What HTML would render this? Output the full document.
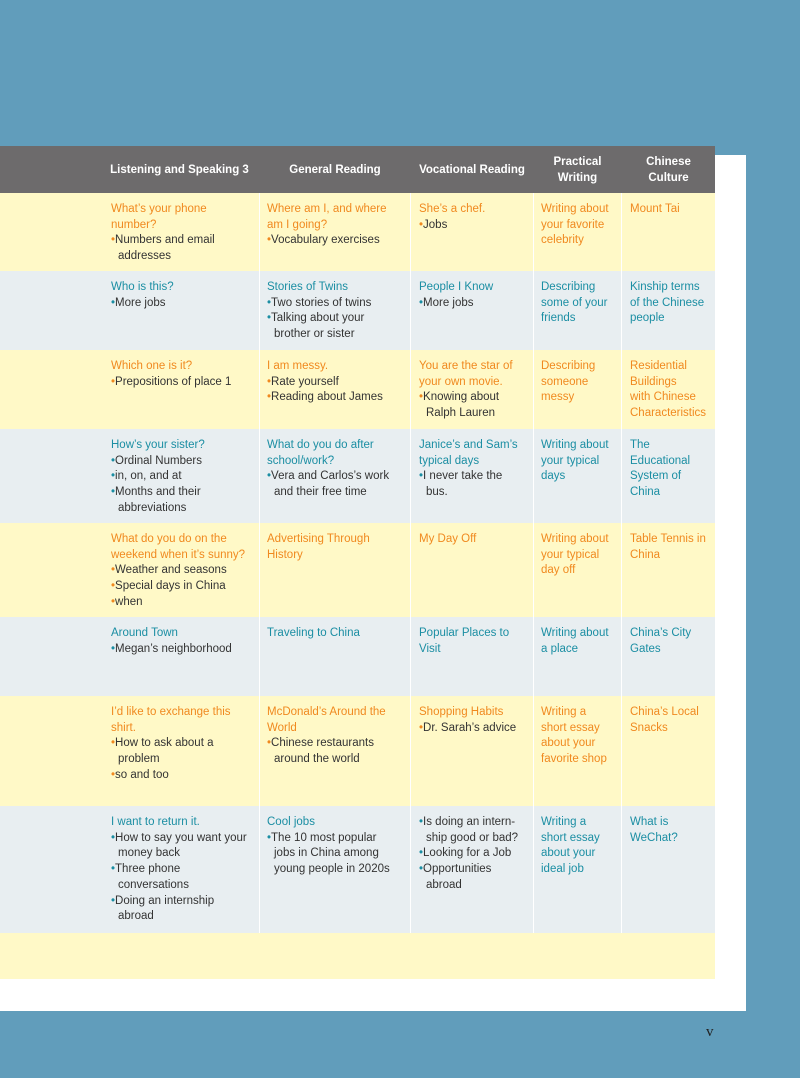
<!DOCTYPE html>
<html><head><meta charset="utf-8">
<style>
body{margin:0;width:800px;height:1078px;background:#619dbb;position:relative;overflow:hidden;font-family:"Liberation Sans",sans-serif;}
#panel{position:absolute;left:0;top:155px;width:746px;height:856px;background:#fff;}
#hdr{position:absolute;left:0;top:146px;width:715px;height:47px;background:#6d6b6c;}
.h{position:absolute;top:146px;height:47px;display:flex;align-items:center;justify-content:center;text-align:center;color:#fff;font-weight:bold;font-size:11.5px;line-height:16px;}
.row{position:absolute;left:0;width:715px;}
.sep{position:absolute;width:1px;background:#fff;}
.cell{position:absolute;font-size:11.5px;line-height:15.7px;white-space:nowrap;color:#333;}
.pg{position:absolute;left:706px;top:1024px;font-family:"Liberation Serif",serif;font-size:15px;color:#222;}
</style></head>
<body>
<div id="panel"></div>
<div id="hdr"></div>
<div class="h" style="left:100px;width:159px">Listening and Speaking 3</div>
<div class="h" style="left:260px;width:150px">General Reading</div>
<div class="h" style="left:411px;width:122px">Vocational Reading</div>
<div class="h" style="left:534px;width:87px">Practical<br>Writing</div>
<div class="h" style="left:622px;width:93px">Chinese<br>Culture</div>
<div id="tbl"></div>
<div class="pg">v</div>
<script>
const rowTops=[193,271,350,429,523,617,696,806,933,979];
const colX=[111,267,419,541,630];
const seps=[259,410,533,621];
const rows=[
[["What’s your phone","number?","•Numbers and email"," addresses"],["Where am I, and where","am I going?","•Vocabulary exercises"],["She’s a chef.","•Jobs"],["Writing about","your favorite","celebrity"],["Mount Tai"]],
[["Who is this?","•More jobs"],["Stories of Twins","•Two stories of twins","•Talking about your"," brother or sister"],["People I Know","•More jobs"],["Describing","some of your","friends"],["Kinship terms","of the Chinese","people"]],
[["Which one is it?","•Prepositions of place 1"],["I am messy.","•Rate yourself","•Reading about James"],["You are the star of","your own movie.","•Knowing about"," Ralph Lauren"],["Describing","someone","messy"],["Residential","Buildings","with Chinese","Characteristics"]],
[["How’s your sister?","•Ordinal Numbers","•in, on, and at","•Months and their"," abbreviations"],["What do you do after","school/work?","•Vera and Carlos’s work"," and their free time"],["Janice’s and Sam’s","typical days","•I never take the"," bus."],["Writing about","your typical","days"],["The","Educational","System of","China"]],
[["What do you do on the","weekend when it’s sunny?","•Weather and seasons","•Special days in China","•when"],["Advertising Through","History"],["My Day Off"],["Writing about","your typical","day off"],["Table Tennis in","China"]],
[["Around Town","•Megan’s neighborhood"],["Traveling to China"],["Popular Places to","Visit"],["Writing about","a place"],["China’s City","Gates"]],
[["I’d like to exchange this","shirt.","•How to ask about a"," problem","•so and too"],["McDonald’s Around the","World","•Chinese restaurants"," around the world"],["Shopping Habits","•Dr. Sarah’s advice"],["Writing a","short essay","about your","favorite shop"],["China’s Local","Snacks"]],
[["I want to return it.","•How to say you want your"," money back","•Three phone"," conversations","•Doing an internship"," abroad"],["Cool jobs","•The 10 most popular"," jobs in China among"," young people in 2020s"],["","•Is doing an intern-"," ship good or bad?","•Looking for a Job","•Opportunities"," abroad"],["Writing a","short essay","about your","ideal job"],["What is","WeChat?"]]
];
const tbl=document.getElementById('tbl');
for(let r=0;r<9;r++){
  const yellow=r%2===0;
  const d=document.createElement('div');
  d.className='row';
  d.style.top=rowTops[r]+'px';
  d.style.height=(rowTops[r+1]-rowTops[r])+'px';
  d.style.background=yellow?'#fff9c7':'#e8eef1';
  
  
  tbl.appendChild(d);
  if(r<8){
    for(const sx of seps){
      const s=document.createElement('div');
      s.className='sep';
      s.style.left=sx+'px';s.style.top=rowTops[r]+'px';s.style.height=(rowTops[r+1]-rowTops[r])+'px';
      
      
      tbl.appendChild(s);
    }
    const col=yellow?'#f0891f':'#1b8ea3';
    rows[r].forEach((lines,c)=>{
      const cell=document.createElement('div');
      cell.className='cell';
      cell.style.left=colX[c]+'px';
      cell.style.top=(rowTops[r]+9)+'px';
      
      
      let h='';
      for(const ln of lines){
        if(ln.startsWith('•')) h+='<div><span style="color:'+col+'">•</span>'+ln.slice(1)+'</div>';
        else if(ln.startsWith(' ')) h+='<div style="padding-left:7px">'+ln.slice(1)+'</div>';
        else if(ln==='') h+='';
        else h+='<div style="color:'+col+'">'+ln+'</div>';
      }
      cell.innerHTML=h;
      tbl.appendChild(cell);
    });
  }
}
</script>
</body></html>
